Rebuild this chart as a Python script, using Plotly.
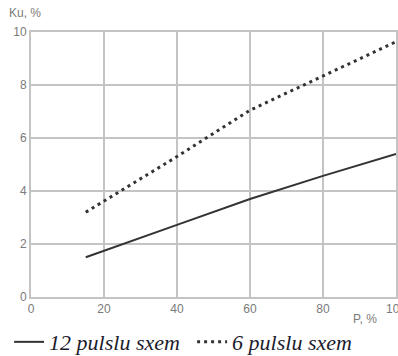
import plotly.graph_objects as go

# load power, %
p_12 = [15, 20, 40, 60, 80, 100]
ku_12 = [1.5, 1.74, 2.72, 3.7, 4.57, 5.4]

p_6 = [15, 20, 40, 60, 80, 100]
ku_6 = [3.2, 3.62, 5.3, 7.05, 8.34, 9.63]

x_ticks = [0, 20, 40, 60, 80, 100]
y_ticks = [0, 2, 4, 6, 8, 10]

grid_col = "#c4c4c4"
tick_col = "#7a7a7a"

fig = go.Figure()
fig.add_trace(go.Scatter(
    x=p_12, y=ku_12, mode="lines", name="12 pulslu sxem",
    line={"color": "#333333", "width": 2},
))
fig.add_trace(go.Scatter(
    x=p_6, y=ku_6, mode="lines", name="6 pulslu sxem",
    line={"color": "#333333", "width": 3, "dash": "3px,4px"},
))

fig.update_layout(
    width=398, height=356,
    margin={"l": 31, "r": 2, "t": 32, "b": 59, "autoexpand": False},
    plot_bgcolor="white", paper_bgcolor="white",
    font={"family": "Liberation Sans, Arial", "size": 12, "color": tick_col},
    legend={
        "orientation": "h", "x": -0.06, "xanchor": "left",
        "y": -0.17, "yanchor": "middle",
        "font": {"family": "Liberation Serif", "size": 22,
                 "style": "italic", "color": "#1c1c2c"},
        "itemwidth": 30, "tracegroupgap": 0, "entrywidth": 138,
    },
    xaxis={
        "range": [0, 100], "tickvals": x_ticks, "showgrid": True,
        "gridcolor": grid_col, "gridwidth": 2, "showline": True,
        "linecolor": grid_col, "linewidth": 2, "mirror": True,
        "ticks": "", "zeroline": False, "automargin": False,
        "ticklabeloverflow": "allow",
        "tickfont": {"color": tick_col, "size": 12},
    },
    yaxis={
        "range": [0, 10], "tickvals": y_ticks, "showgrid": True,
        "gridcolor": grid_col, "gridwidth": 2, "showline": True,
        "linecolor": grid_col, "linewidth": 2, "mirror": True,
        "ticks": "", "zeroline": False, "automargin": False,
        "tickfont": {"color": tick_col, "size": 12},
    },
    annotations=[
        {"text": "Ku, %", "xref": "paper", "yref": "paper", "x": -0.065,
         "y": 1.07, "xanchor": "left", "yanchor": "middle", "showarrow": False,
         "font": {"color": tick_col, "size": 12}},
        {"text": "P, %", "xref": "paper", "yref": "paper", "x": 0.877,
         "y": -0.083, "xanchor": "left", "yanchor": "middle", "showarrow": False,
         "font": {"color": tick_col, "size": 12}},
    ],
)

# page has a default 8px body margin, drop it so the figure sits at 0,0
fig.write_html("out.html", config={"displayModeBar": False},
               post_script="document.body.style.margin='0';")
